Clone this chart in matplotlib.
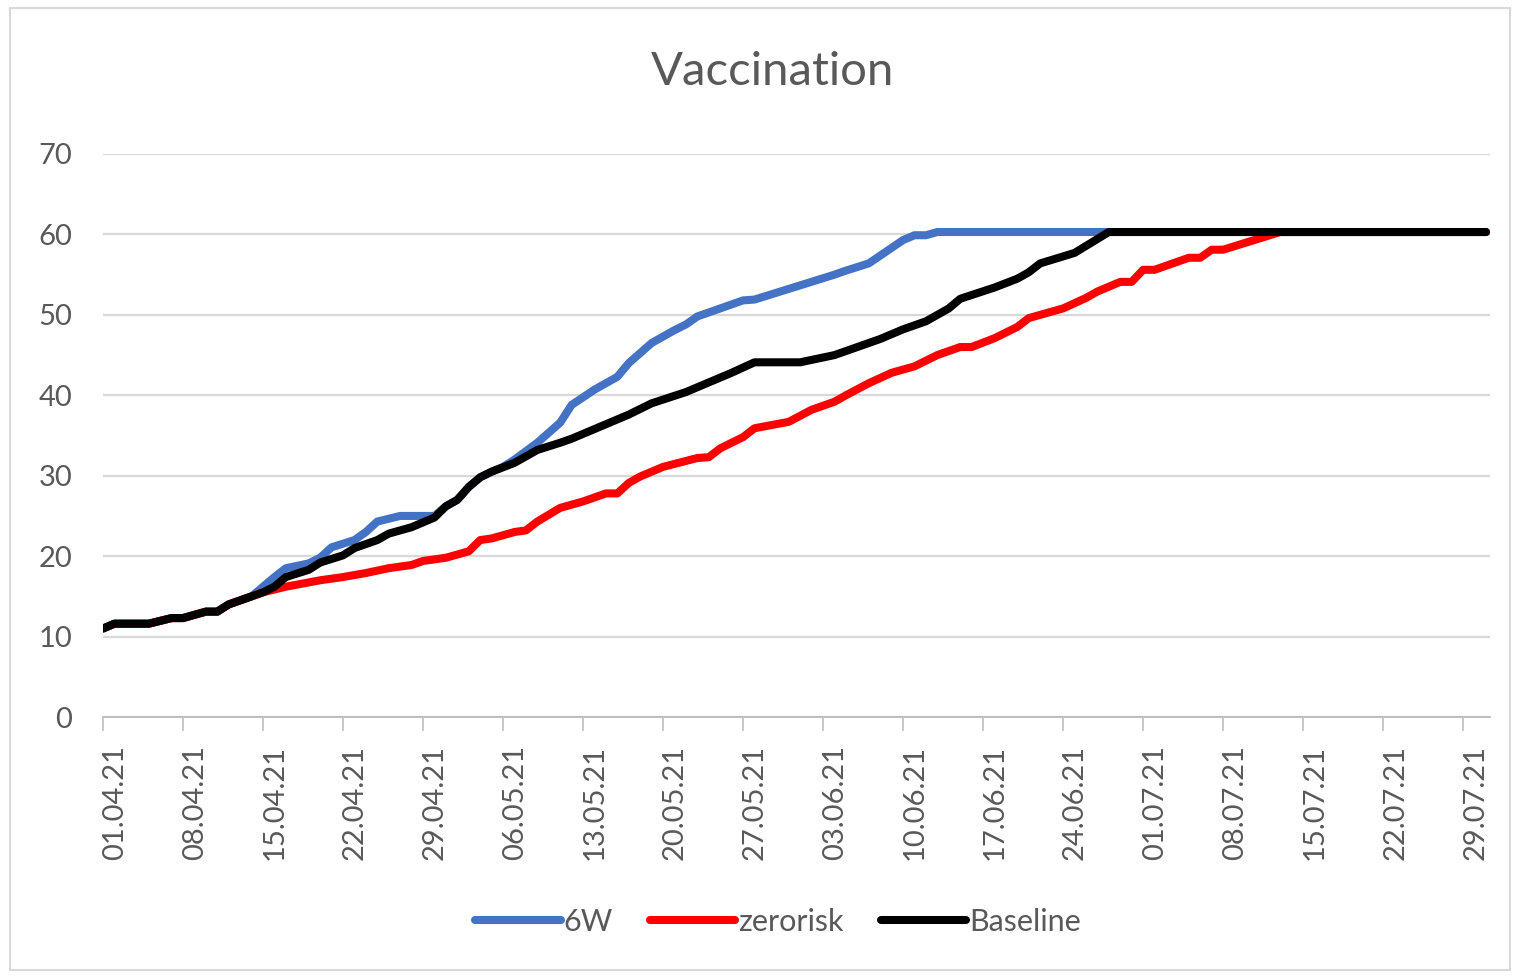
# Vaccination scenarios chart
import matplotlib.pyplot as plt
import matplotlib.transforms as mtransforms
from matplotlib.patches import Rectangle

# days since 01.04.21 and values
base_day = [0, 1, 4, 6, 7, 9, 10, 11, 13, 14, 15, 16, 18, 19, 21, 22, 24, 25, 27, 29,
            30, 31, 32, 33, 34, 36, 38, 40, 41, 46, 48, 51, 55, 57, 61, 64, 68, 70, 72,
            73, 74, 75, 78, 80, 81, 82, 85, 88, 121]
base_val = [11.0, 11.6, 11.6, 12.3, 12.3, 13.1, 13.1, 14.0, 15.0, 15.5, 16.2, 17.4, 18.3,
            19.2, 20.1, 21.0, 22.0, 22.8, 23.6, 24.8, 26.2, 27.0, 28.6, 29.8, 30.5, 31.6,
            33.2, 34.1, 34.6, 37.6, 39.0, 40.4, 42.8, 44.1, 44.1, 45.0, 47.0, 48.2, 49.2,
            50.0, 50.8, 52.0, 53.4, 54.5, 55.3, 56.4, 57.7, 60.3, 60.3]

w6_day = [0, 1, 4, 6, 7, 9, 10, 11, 13, 14, 15, 16, 18, 19, 20, 22, 23, 24, 26, 28,
          29, 30, 31, 32, 33, 34, 35, 36, 38, 40, 41, 43, 45, 46, 48, 50, 51, 52, 56, 57,
          64, 65, 67, 70, 71, 72, 73, 121]
w6_val = [11.0, 11.6, 11.6, 12.3, 12.3, 13.1, 13.1, 14.0, 15.0, 16.2, 17.4, 18.5, 19.1,
          19.8, 21.1, 22.0, 23.0, 24.3, 25.0, 25.0, 25.0, 26.2, 27.0, 28.6, 29.8, 30.5,
          31.1, 32.0, 34.1, 36.6, 38.8, 40.7, 42.3, 44.0, 46.5, 48.1, 48.8, 49.8, 51.8,
          51.9, 55.0, 55.5, 56.4, 59.3, 59.9, 59.9, 60.3, 60.3]

zr_day = [0, 1, 4, 6, 7, 9, 10, 11, 13, 14, 16, 19, 21, 23, 25, 27, 28, 30, 32, 33,
          34, 36, 37, 38, 40, 42, 44, 45, 46, 47, 49, 52, 53, 54, 56, 57, 60, 62, 64,
          65, 67, 69, 71, 73, 75, 76, 78, 80, 81, 83, 84, 86, 87, 89, 90, 91, 92, 95,
          96, 97, 98, 103, 121]
zr_val = [11.0, 11.6, 11.6, 12.3, 12.3, 13.1, 13.1, 14.0, 15.0, 15.5, 16.2, 17.0, 17.4,
          17.9, 18.5, 18.9, 19.4, 19.8, 20.6, 22.0, 22.2, 23.0, 23.2, 24.3, 26.0, 26.8,
          27.8, 27.8, 29.1, 29.9, 31.1, 32.2, 32.3, 33.4, 34.8, 35.9, 36.7, 38.2, 39.2,
          40.0, 41.5, 42.8, 43.6, 45.0, 46.0, 46.0, 47.1, 48.5, 49.6, 50.4, 50.8, 52.1,
          52.9, 54.1, 54.1, 55.6, 55.6, 57.1, 57.1, 58.1, 58.1, 60.3, 60.3]

tick_days = list(range(0, 120, 7))
tick_labels = ['01.04.21', '08.04.21', '15.04.21', '22.04.21', '29.04.21', '06.05.21',
               '13.05.21', '20.05.21', '27.05.21', '03.06.21', '10.06.21', '17.06.21',
               '24.06.21', '01.07.21', '08.07.21', '15.07.21', '22.07.21', '29.07.21']

plt.rcParams['font.family'] = ['Lato', 'DejaVu Sans']
grey = '#595959'

fig = plt.figure(figsize=(15.16, 9.77), dpi=100)
fig.patches.append(Rectangle((10 / 1516, 7 / 977), 1500 / 1516, 962 / 977,
                             transform=fig.transFigure, fill=False,
                             edgecolor='#d9d9d9', linewidth=1.5))
ax = fig.add_axes([103 / 1516, 1 - 717 / 977, (1490 - 103) / 1516, (717 - 154) / 977])

lw = 5.8
ax.plot(w6_day, w6_val, color='#4472c4', lw=lw, solid_capstyle='round', label='6W')
ax.plot(zr_day, zr_val, color='#ff0000', lw=lw, solid_capstyle='round', label='zerorisk')
ax.plot(base_day, base_val, color='black', lw=lw, solid_capstyle='round', label='Baseline')

ax.set_xlim(0, 121.35)
ax.set_ylim(0, 70)
ax.set_yticks(range(0, 71, 10))
ax.set_xticks(tick_days)
ax.set_xticklabels(tick_labels, rotation=90)
ax.tick_params(axis='x', length=10, width=1.2, color='#bfbfbf', pad=10,
               labelsize=21, labelcolor=grey)
ax.tick_params(axis='y', length=0, pad=22, labelsize=21, labelcolor=grey)
ax.grid(axis='y', color='#d9d9d9', lw=1.6)
ax.set_axisbelow(True)
for s in ['top', 'right', 'left']:
    ax.spines[s].set_visible(False)
ax.spines['bottom'].set_color('#bfbfbf')
ax.spines['bottom'].set_linewidth(1.4)

# Excel puts the rotated labels a little right of the tick
shift = mtransforms.ScaledTranslation(12 / 100, 0, fig.dpi_scale_trans)
for lab in ax.get_xticklabels():
    lab.set_transform(lab.get_transform() + shift)

fig.text(773 / 1516, 1 - 72 / 977, 'Vaccination', ha='center', va='center',
         fontsize=34, color=grey)

fig.legend(loc='center', bbox_to_anchor=(778 / 1516, 1 - 922 / 977), ncol=3,
           frameon=False, fontsize=22, handlelength=2.8, handletextpad=0.1,
           columnspacing=1.2, labelcolor=grey)

plt.savefig('out.png', dpi=100)
